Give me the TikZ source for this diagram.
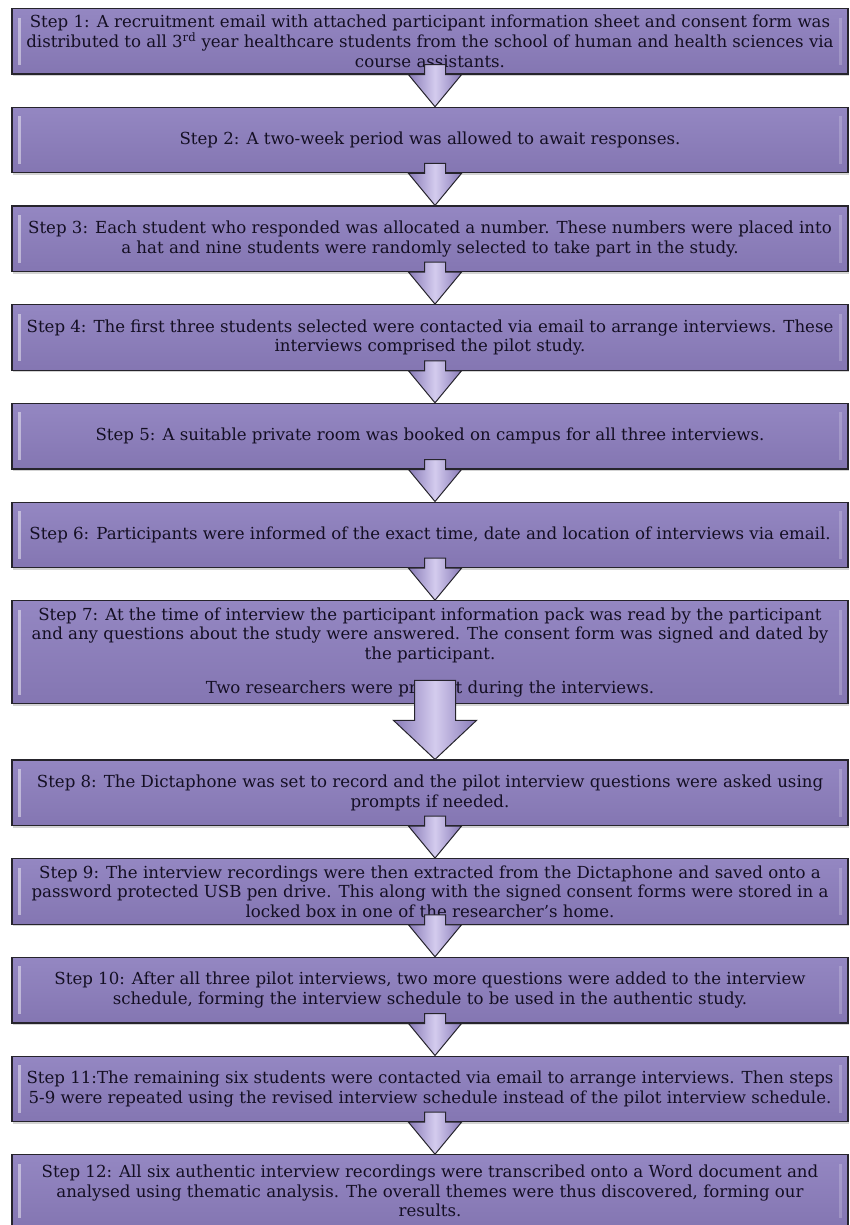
\documentclass[tikz,border=0pt]{standalone}
\usepackage{fontspec}
\setmainfont{DejaVu Serif}
\usepackage{tikz}
\usetikzlibrary{positioning, calc, shadows}

\definecolor{boxtop}{RGB}{148,135,194}
\definecolor{boxbottom}{RGB}{132,118,178}
\definecolor{boxline}{RGB}{38,36,44}
\definecolor{arrowpurple}{RGB}{136,122,184}
\definecolor{arrowlight}{RGB}{212,204,238}
\definecolor{steptext}{RGB}{20,15,35}

\begin{document}
\begin{tikzpicture}[
  x=1pt, y=-1pt,
  node distance=32pt,
  every node/.style={font=\fontsize{16.6}{19.6}\selectfont, text=steptext},
  stepbox/.style={draw=boxline, line width=1.2pt, top color=boxtop, bottom color=boxbottom,
    minimum width=836pt, minimum height=65.5pt, inner xsep=3pt, inner ysep=2pt, align=center,
    drop shadow={opacity=0.35, shadow xshift=1pt, shadow yshift=-2pt},
    path picture={
      \fill[white, opacity=0.45] ([xshift=6pt,yshift=-9pt]path picture bounding box.north west)
        rectangle ([xshift=9pt,yshift=9pt]path picture bounding box.south west);
      \fill[white, opacity=0.2] ([xshift=-9pt,yshift=-9pt]path picture bounding box.north east)
        rectangle ([xshift=-6pt,yshift=9pt]path picture bounding box.south east);}},
  smallarr/.style={draw=boxline, line width=1pt, left color=arrowpurple, right color=arrowpurple,
    middle color=arrowlight,
    to path={let \p1=(\tikztostart), \p2=(\tikztotarget) in
      (\x1-10.5pt,\y1+10pt) -- (\x1-10.5pt,\y1) -- (\x1-26.5pt,\y1) -- (\x2,\y2)
      -- (\x1+26.5pt,\y1) -- (\x1+10.5pt,\y1) -- (\x1+10.5pt,\y1+10pt) -- cycle}},
  bigarr/.style={draw=boxline, line width=1pt, left color=arrowpurple, right color=arrowpurple,
    middle color=arrowlight,
    to path={let \p1=(\tikztostart), \p2=(\tikztotarget) in
      (\x1-20.5pt,\y1+24pt) -- (\x1-20.5pt,\y1-16pt) -- (\x1-41.5pt,\y1-16pt) -- (\x2,\y2)
      -- (\x1+41.5pt,\y1-16pt) -- (\x1+20.5pt,\y1-16pt) -- (\x1+20.5pt,\y1+24pt) -- cycle}}
]
  \useasboundingbox (0,0) rectangle (850,1225);

  % the twelve steps
  \node[stepbox, anchor=north] (b1) at (430,8)
    {Step 1: A recruitment email with attached participant information sheet and consent form was\\
     distributed to all 3\textsuperscript{rd} year healthcare students from the school of human and health sciences via\\
     course assistants.};
  \node[stepbox, below=of b1] (b2)
    {Step 2: A two-week period was allowed to await responses.};
  \node[stepbox, below=of b2] (b3)
    {Step 3: Each student who responded was allocated a number. These numbers were placed into\\
     a hat and nine students were randomly selected to take part in the study.};
  \node[stepbox, below=of b3] (b4)
    {Step 4: The first three students selected were contacted via email to arrange interviews. These\\
     interviews comprised the pilot study.};
  \node[stepbox, below=of b4] (b5)
    {Step 5: A suitable private room was booked on campus for all three interviews.};
  \node[stepbox, below=of b5] (b6)
    {Step 6: Participants were informed of the exact time, date and location of interviews via email.};
  \node[stepbox, below=of b6, minimum height=103pt] (b7)
    {Step 7: At the time of interview the participant information pack was read by the participant\\
     and any questions about the study were answered. The consent form was signed and dated by\\
     the participant.\\[14pt]
     Two researchers were present during the interviews.};
  \node[stepbox, below=55pt of b7] (b8)
    {Step 8: The Dictaphone was set to record and the pilot interview questions were asked using\\
     prompts if needed.};
  \node[stepbox, below=of b8] (b9)
    {Step 9: The interview recordings were then extracted from the Dictaphone and saved onto a\\
     password protected USB pen drive. This along with the signed consent forms were stored in a\\
     locked box in one of the researcher's home.};
  \node[stepbox, below=of b9] (b10)
    {Step 10: After all three pilot interviews, two more questions were added to the interview\\
     schedule, forming the interview schedule to be used in the authentic study.};
  \node[stepbox, below=of b10] (b11)
    {Step 11:The remaining six students were contacted via email to arrange interviews. Then steps\\
     5-9 were repeated using the revised interview schedule instead of the pilot interview schedule.};
  \node[stepbox, below=of b11, minimum height=72pt] (b12)
    {Step 12: All six authentic interview recordings were transcribed onto a Word document and\\
     analysed using thematic analysis. The overall themes were thus discovered, forming our\\
     results.};

  % block arrows between the steps
  \foreach \a/\b in {1/2, 2/3, 3/4, 4/5, 5/6, 6/7, 8/9, 9/10, 10/11, 11/12}
    \draw[smallarr] ([xshift=5pt]b\a.south) to ([xshift=5pt]b\b.north);
  \draw[bigarr] ([xshift=5pt]b7.south) to ([xshift=5pt]b8.north);
\end{tikzpicture}
\end{document}
